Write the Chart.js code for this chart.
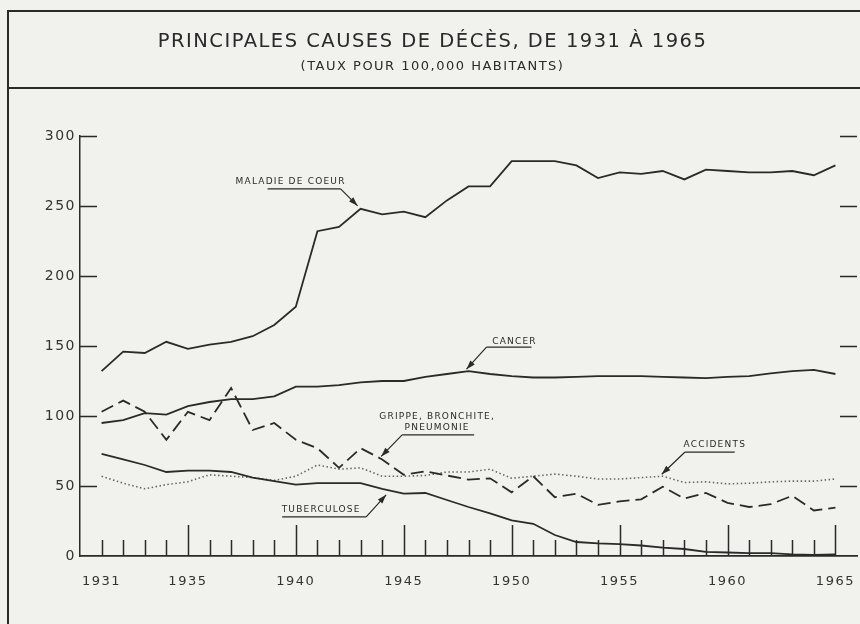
<!DOCTYPE html>
<html>
<head>
<meta charset="utf-8">
<title>Principales causes de décès, de 1931 à 1965</title>
<script src="https://cdn.jsdelivr.net/npm/chart.js@4/dist/chart.umd.min.js"></script>
<style>
  html, body { margin: 0; padding: 0; background: #f1f1ed; overflow: hidden; }
  canvas { display: block; }
</style>
</head>
<body>
<canvas id="chart" width="860" height="624"></canvas>
<script>
// Taux pour 100,000 habitants
const anos = [1931, 1932, 1933, 1934, 1935, 1936, 1937, 1938, 1939, 1940,
              1941, 1942, 1943, 1944, 1945, 1946, 1947, 1948, 1949, 1950,
              1951, 1952, 1953, 1954, 1955, 1956, 1957, 1958, 1959, 1960,
              1961, 1962, 1963, 1964, 1965];
const coeur = [132, 146, 145, 153, 148, 151, 153, 157, 165, 178,
               232, 235, 248, 244, 246, 242, 254, 264, 264, 282,
               282, 282, 279, 270, 274, 273, 275, 269, 276, 275,
               274, 274, 275, 272, 279];
const cancer = [95, 97, 102, 101, 107, 110, 112, 112, 114, 121,
                121, 122, 124, 125, 125, 128, 130, 132, 130, 128.5,
                127.5, 127.5, 128, 128.5, 128.5, 128.5, 128, 127.5, 127, 128,
                128.5, 130.5, 132, 133, 130];
const grippe = [103, 111, 103, 83, 103, 97, 120, 90, 95, 83,
                77, 63, 77, 69, 58, 60.5, 57.5, 54.5, 55.5, 45.5,
                57, 42, 44.5, 36.5, 39, 40.5, 49.5, 41, 45, 38,
                35, 37, 43, 32.5, 34.5];
const tuberculose = [73, 69, 65, 60, 61, 61, 60, 56, 53.5, 51,
                     52, 52, 52, 48, 44.5, 45, 40, 35, 30.5, 25.5,
                     23, 15, 10, 9, 8.5, 7.5, 6, 5, 3, 2.5,
                     2, 2, 1.2, 0.8, 1.2];
const accidents = [57, 52, 48, 51, 53, 58, 57, 56, 54, 57,
                   65, 62, 63, 57, 57, 57.5, 60, 60, 62, 55.5,
                   57, 58.5, 57, 55, 55, 56, 57, 52.5, 53, 51.5,
                   52, 53, 53.5, 53.5, 55];
const anosRotulados = [1931, 1935, 1940, 1945, 1950, 1955, 1960, 1965];
const valoresY = [50, 100, 150, 200, 250, 300];

const tinta = '#2a2a2a';
const fonte = '"DejaVu Sans", sans-serif';

function pontos(serie) {
    return anos.map(function(a, i) { return { x: a, y: serie[i] }; });
}

// étiquettes : décalages en pixels autour du point visé
const notas = [
    { serie: 0, ano: 1943, linhas: ['MALADIE DE COEUR'], tx: -70, ty: [-27],
      sub: [-93, -20, -20], de: [-20, -20], ponta: [-3, -3] },
    { serie: 1, ano: 1948, linhas: ['CANCER'], tx: 46, ty: [-30],
      sub: [18, 63, -24], de: [18, -24], ponta: [-2, -2] },
    { serie: 2, ano: 1944, linhas: ['GRIPPE, BRONCHITE,', 'PNEUMONIE'], tx: 55, ty: [-42.5, -31.5],
      sub: [20, 92, -24.5], de: [20, -24.5], ponta: [-1, -3] },
    { serie: 4, ano: 1957, linhas: ['ACCIDENTS'], tx: 52, ty: [-32],
      sub: [22, 72, -24], de: [22, -24], ponta: [-1, -2] },
    { serie: 3, ano: 1944, linhas: ['TUBERCULOSE'], tx: -61, ty: [21],
      sub: [-100, -16, 28], de: [-16, 28], ponta: [4, 6] }
];

const moldura = {
    id: 'moldura',
    beforeDraw(chart) {
        const ctx = chart.ctx;
        ctx.save();
        ctx.fillStyle = '#f1f1ed';
        ctx.fillRect(0, 0, chart.width, chart.height);
        ctx.strokeStyle = tinta;
        ctx.lineWidth = 2;
        ctx.beginPath();
        ctx.moveTo(8, chart.height);
        ctx.lineTo(8, 11);
        ctx.lineTo(chart.width, 11);
        ctx.moveTo(8, 88);
        ctx.lineTo(chart.width, 88);
        ctx.stroke();
        ctx.restore();
        ctx.letterSpacing = '1.5px';
    }
};

const marcas = {
    id: 'marcas',
    afterDatasetsDraw(chart) {
        const ctx = chart.ctx;
        const x = chart.scales.x, y = chart.scales.y, area = chart.chartArea;
        ctx.save();
        ctx.strokeStyle = tinta;
        ctx.lineWidth = 1.5;
        ctx.beginPath();
        anos.forEach(function(a) {
            const px = Math.round(x.getPixelForValue(a)) + 0.5;
            const h = (a % 5 === 0) ? 31 : 16;
            ctx.moveTo(px, area.bottom);
            ctx.lineTo(px, area.bottom - h);
        });
        valoresY.forEach(function(v) {
            const py = Math.round(y.getPixelForValue(v)) + 0.5;
            ctx.moveTo(area.left, py);
            ctx.lineTo(area.left + 17, py);
            ctx.moveTo(area.right - 17, py);
            ctx.lineTo(area.right, py);
        });
        ctx.stroke();

        // étiquettes et flèches
        ctx.letterSpacing = '1.2px';
        ctx.font = '9px ' + fonte;
        ctx.fillStyle = tinta;
        ctx.textBaseline = 'middle';
        ctx.textAlign = 'center';
        ctx.lineWidth = 1.2;
        notas.forEach(function(n) {
            const i = anos.indexOf(n.ano);
            const ax = x.getPixelForValue(n.ano);
            const ay = y.getPixelForValue(chart.data.datasets[n.serie].data[i].y);
            n.linhas.forEach(function(t, k) {
                ctx.fillText(t, ax + n.tx, ay + n.ty[k]);
            });
            ctx.beginPath();
            ctx.moveTo(ax + n.sub[0], ay + n.sub[2]);
            ctx.lineTo(ax + n.sub[1], ay + n.sub[2]);
            ctx.moveTo(ax + n.de[0], ay + n.de[1]);
            ctx.lineTo(ax + n.ponta[0], ay + n.ponta[1]);
            ctx.stroke();
            // pointe de flèche
            const dx = n.ponta[0] - n.de[0], dy = n.ponta[1] - n.de[1];
            const len = Math.sqrt(dx * dx + dy * dy);
            const ux = dx / len, uy = dy / len;
            const tx = ax + n.ponta[0], ty = ay + n.ponta[1];
            ctx.beginPath();
            ctx.moveTo(tx, ty);
            ctx.lineTo(tx - ux * 9 - uy * 3, ty - uy * 9 + ux * 3);
            ctx.lineTo(tx - ux * 9 + uy * 3, ty - uy * 9 - ux * 3);
            ctx.closePath();
            ctx.fill();
        });
        ctx.restore();
    }
};

const ctx = document.getElementById('chart').getContext('2d');
const chart = new Chart(ctx, {
    type: 'line',
    data: {
        datasets: [
            { label: 'Maladie de coeur', data: pontos(coeur), borderColor: tinta, borderWidth: 1.8 },
            { label: 'Cancer', data: pontos(cancer), borderColor: tinta, borderWidth: 1.8 },
            { label: 'Grippe, bronchite, pneumonie', data: pontos(grippe), borderColor: tinta, borderWidth: 1.8,
              borderDash: [13, 6] },
            { label: 'Tuberculose', data: pontos(tuberculose), borderColor: tinta, borderWidth: 1.8 },
            { label: 'Accidents', data: pontos(accidents), borderColor: '#666', borderWidth: 1.6,
              borderDash: [1.5, 2.5] }
        ]
    },
    options: {
        responsive: false,
        animation: false,
        devicePixelRatio: 1,
        elements: { point: { radius: 0 }, line: { tension: 0, fill: false } },
        layout: { padding: { left: 8, right: 3, top: 0, bottom: 0 } },
        plugins: {
            legend: { display: false },
            tooltip: { enabled: false },
            title: {
                display: true,
                text: 'PRINCIPALES CAUSES DE DÉCÈS, DE 1931 À 1965',
                color: tinta,
                font: { family: fonte, size: 19.5, weight: 'normal' },
                padding: { top: 30, bottom: 5 }
            },
            subtitle: {
                display: true,
                text: '(TAUX POUR 100,000 HABITANTS)',
                color: tinta,
                font: { family: fonte, size: 13, weight: 'normal' },
                padding: { top: 0, bottom: 62 }
            }
        },
        scales: {
            x: {
                type: 'linear',
                min: 1930,
                max: 1966,
                afterBuildTicks: function(scale) {
                    scale.ticks = anosRotulados.map(function(a) { return { value: a }; });
                },
                afterFit: function(scale) {
                    scale.height = 68;
                    scale.paddingLeft = 0;
                    scale.paddingRight = 0;
                },
                grid: { display: false, drawTicks: false },
                border: { display: true, color: tinta, width: 1.8 },
                ticks: {
                    autoSkip: false,
                    maxRotation: 0,
                    padding: 18,
                    color: '#333',
                    font: { family: fonte, size: 13 },
                    callback: function(v) { return String(v); }
                }
            },
            y: {
                min: 0,
                max: 300,
                afterFit: function(scale) { scale.width = 72; },
                grid: { display: false, drawTicks: false },
                border: { display: true, color: tinta, width: 1.5 },
                ticks: {
                    stepSize: 50,
                    padding: 4,
                    color: '#333',
                    font: { family: fonte, size: 14 }
                }
            }
        }
    },
    plugins: [moldura, marcas]
});
</script>
</body>
</html>
